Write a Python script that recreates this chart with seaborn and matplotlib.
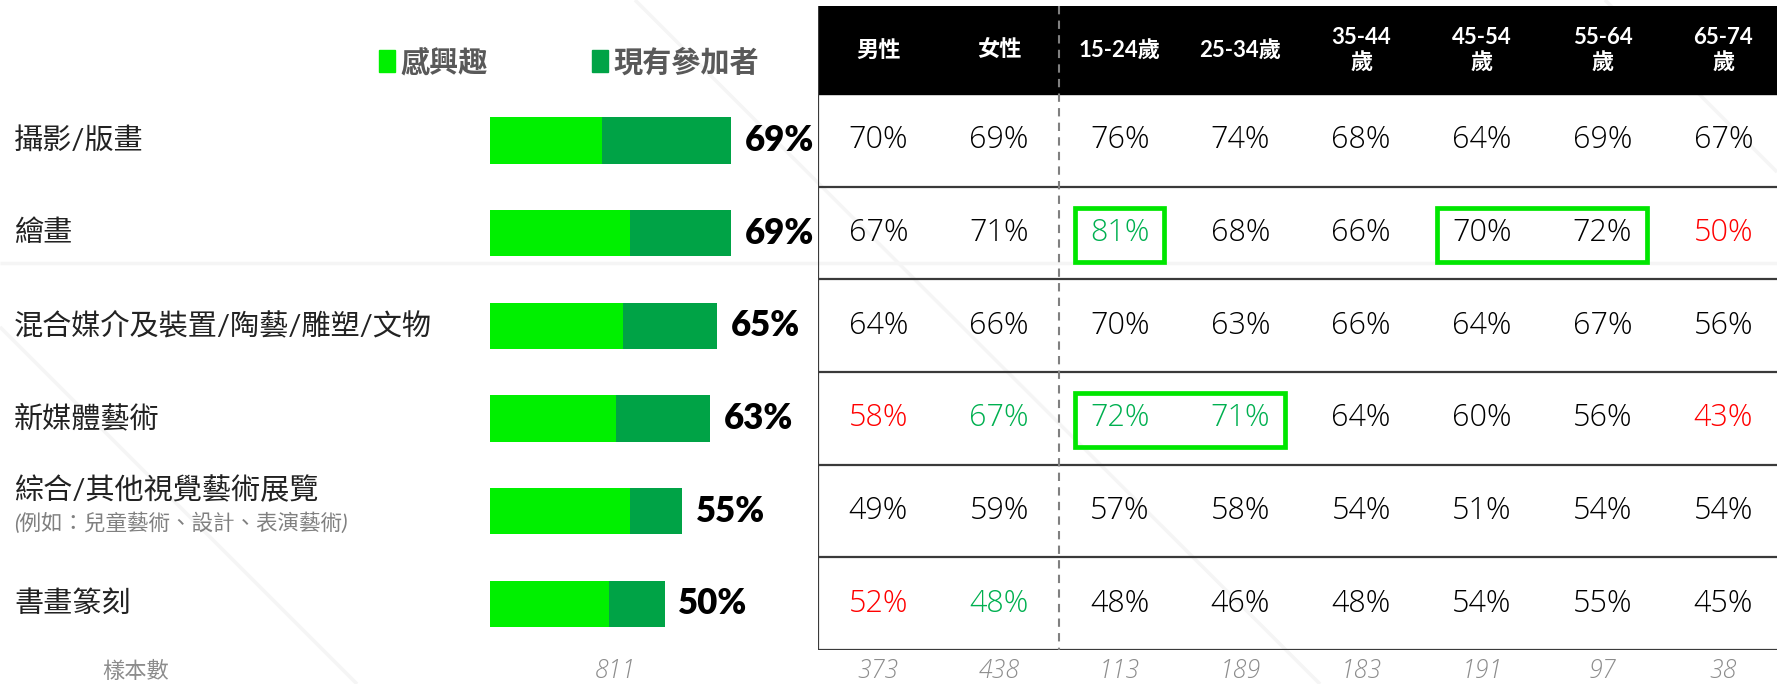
import numpy as np
import pandas as pd
import matplotlib
matplotlib.use("Agg")
import matplotlib.pyplot as plt
import seaborn as sns
from matplotlib.patches import Rectangle, Patch
from matplotlib.transforms import blended_transform_factory

# 資料
categories = ["攝影/版畫", "繪畫", "混合媒介及裝置/陶藝/雕塑/文物",
              "新媒體藝術", "綜合/其他視覺藝術展覽", "書畫篆刻"]
category_notes = ["", "", "", "", "(例如：兒童藝術、設計、表演藝術)", ""]
interested = [32, 40, 38, 36, 40, 34]
participants = [37, 29, 27, 27, 15, 16]
totals = [69, 69, 65, 63, 55, 50]

groups = ["男性", "女性", "15-24歲", "25-34歲",
          "35-44\n歲", "45-54\n歲", "55-64\n歲", "65-74\n歲"]
group_values = [
    [70, 69, 76, 74, 68, 64, 69, 67],
    [67, 71, 81, 68, 66, 70, 72, 50],
    [64, 66, 70, 63, 66, 64, 67, 56],
    [58, 67, 72, 71, 64, 60, 56, 43],
    [49, 59, 57, 58, 54, 51, 54, 54],
    [52, 48, 48, 46, 48, 54, 55, 45],
]
sample_total = 811
sample_sizes = [373, 438, 113, 189, 183, 191, 97, 38]

# 顏色標記: r = 偏低, g = 偏高
cell_flags = {(1, 2): "g", (1, 7): "r", (3, 0): "r", (3, 1): "g",
              (3, 2): "g", (3, 3): "g", (3, 7): "r", (5, 0): "r", (5, 1): "g"}
# 方框 (列, 起始欄, 結束欄)
boxes = [(1, 2, 2), (1, 5, 6), (3, 2, 3)]

LIGHT = "#00F000"
DARK = "#00A346"
TXT_GREEN = "#00B050"
TXT_RED = "#FF0000"
BOX = "#00E600"
GREY = "#8C8C8C"

sns.set_style("white")
plt.rcParams["font.family"] = ["Lato", "Noto Sans CJK TC", "DejaVu Sans"]
NUM_FONT = ["Open Sans", "Noto Sans CJK TC", "DejaVu Sans"]

W, H = 1777, 684
fig = plt.figure(figsize=(W / 100, H / 100), dpi=100)

# 背景淡線
bg = fig.add_axes([0, 0, 1, 1], zorder=-5)
bg.set_xlim(0, W)
bg.set_ylim(H, 0)
bg.axis("off")
for (x0, y0), (x1, y1) in [((0, 263), (W, 263)), ((635, 0), (1320, 684)),
                           ((0, 327), (357, 684)), ((1605, 0), (1777, 172))]:
    bg.plot([x0, x1], [y0, y1], color="#f5f5f5", lw=2.5, solid_capstyle="butt")

# 左側長條圖
px_per_pct = 3.49
bar_left, bar_right, top, bottom = 490, 818, 94, 650
ax = fig.add_axes([bar_left / W, 1 - bottom / H, (bar_right - bar_left) / W, (bottom - top) / H])
df = pd.DataFrame({"cat": categories, "interested": interested,
                   "participants": participants, "total": totals})
sns.barplot(data=df, x="total", y="cat", color=DARK, saturation=1, width=0.5,
            linewidth=0, ax=ax)
sns.barplot(data=df, x="interested", y="cat", color=LIGHT, saturation=1, width=0.5,
            linewidth=0, ax=ax)
ax.set_xlim(0, (bar_right - bar_left) / px_per_pct)
ax.set_ylim(5.5, -0.5)
ax.axis("off")

for i, t in enumerate(totals):
    ax.text(t + 4, i, f"{t}%", va="center", ha="left", fontsize=25,
            fontweight="heavy", color="black")

lab_tr = blended_transform_factory(fig.transFigure, ax.transData)
for i, (c, note) in enumerate(zip(categories, category_notes)):
    if note:
        ax.text(14 / W, i - 0.22, c, transform=lab_tr, va="center", ha="left",
                fontsize=21, color="#222222")
        ax.text(14 / W, i + 0.13, note, transform=lab_tr, va="center", ha="left",
                fontsize=15.5, color="#808080", style="italic")
    else:
        ax.text(14 / W, i, c, transform=lab_tr, va="center", ha="left",
                fontsize=21, color="#222222")

ax.text(136 / W, 5.73, "樣本數", transform=lab_tr, va="center", ha="center",
        fontsize=16, color=GREY, style="italic")
ax.text(36, 5.73, str(sample_total), va="center", ha="center", fontsize=18,
        color=GREY, style="italic", family=NUM_FONT, fontweight="light",
        clip_on=False)

# 圖例
handles = [Patch(color=LIGHT), Patch(color=DARK)]
fig.legend(handles, ["感興趣", "現有參加者"], ncol=2, frameon=False,
           loc="center left", bbox_to_anchor=(379 / W, 1 - 62 / H),
           borderpad=0, borderaxespad=0, handlelength=0.55, handleheight=0.75,
           handletextpad=0.2, columnspacing=3.55, labelcolor="#595959",
           prop={"size": 21, "weight": "bold"})

# 右側表格
tb = fig.add_axes([818 / W, 1 - 650 / H, (W - 818) / W, 644 / H])
right = -0.5 + (W - 818) / 120.7
tb.set_xlim(-0.5, right)
tb.set_ylim(5.5, -1.45)
tb.axis("off")

tb.add_patch(Rectangle((-0.5, -1.45), right + 0.5, 0.95, color="black", zorder=1))
for j, g in enumerate(groups):
    tb.text(j, -0.975, g, ha="center", va="center", color="white", fontsize=16,
            fontweight="bold", linespacing=1.2, zorder=3)

for y in np.arange(0.5, 6.0, 1.0):
    tb.plot([-0.5, right], [y, y], color="#3a3a3a", lw=1.6, zorder=2)
tb.plot([-0.5, -0.5], [-1.45, 5.5], color="#3a3a3a", lw=1.6, zorder=2)
tb.plot([1.5, 1.5], [-1.45, 5.5], color="#808080", lw=1.5, ls=(0, (4, 3)), zorder=4)

for i, row in enumerate(group_values):
    for j, v in enumerate(row):
        flag = cell_flags.get((i, j))
        col = TXT_RED if flag == "r" else TXT_GREEN if flag == "g" else "black"
        tb.text(j, i, f"{v}%", ha="center", va="center", fontsize=22,
                family=NUM_FONT, fontweight="light", color=col, zorder=3)

for r, c0, c1 in boxes:
    tb.add_patch(Rectangle((c0 - 0.37, r - 0.27), c1 - c0 + 0.74, 0.58,
                           fill=False, ec=BOX, lw=3.4, zorder=3))

for j, n in enumerate(sample_sizes):
    tb.text(j, 5.73, str(n), ha="center", va="center", fontsize=18, color=GREY,
            style="italic", family=NUM_FONT, fontweight="light", clip_on=False)

fig.savefig("out.png", dpi=100)
